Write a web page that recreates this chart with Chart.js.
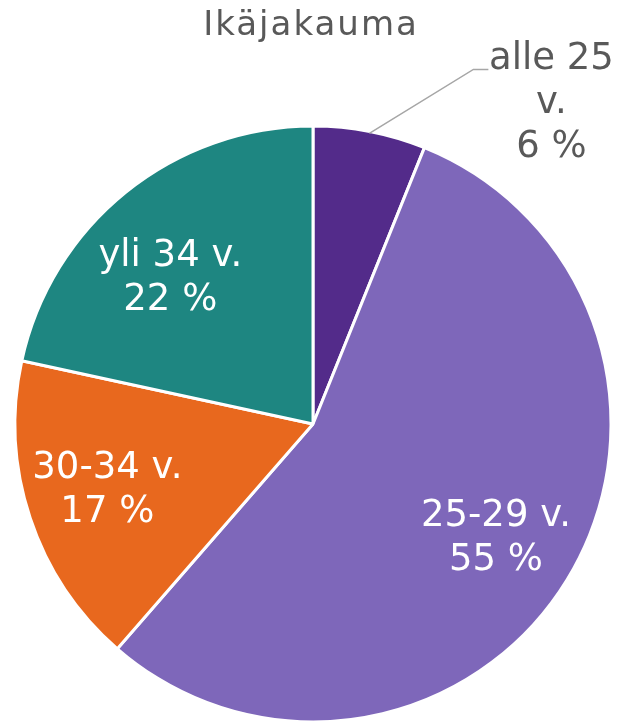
<!DOCTYPE html>
<html>
<head>
<meta charset="utf-8">
<script src="https://cdn.jsdelivr.net/npm/chart.js@4"></script>
<style>
  html, body { margin: 0; padding: 0; background: #fff; }
  canvas { display: block; }
</style>
</head>
<body>
<canvas id="chart" width="618" height="722"></canvas>
<script>
// Age distribution (percent of total)
const chartTitle = 'Ikäjakauma';
const categories = ['alle 25 v.', '25-29 v.', '30-34 v.', 'yli 34 v.'];
const shares = [6.1, 55.3, 17.0, 21.6];
const sliceColors = ['#532B8A', '#7E67BA', '#E8681E', '#1E8681'];

// label line breaks as in the picture
const labelLines = [['alle 25', 'v.'], ['25-29 v.'], ['30-34 v.'], ['yli 34 v.']];

const FONT = '"DejaVu Sans", Verdana, sans-serif';

/*
 * Draws the title and the data labels (no datalabels plugin here)
**/
const pieLabels = {
  id: 'pieLabels',
  afterDraw(chart, args, opts) {
    const ctx = chart.ctx;
    const meta = chart.getDatasetMeta(0);
    const total = shares.reduce((a, b) => a + b, 0);

    ctx.save();
    // title
    ctx.font = `34px ${FONT}`;
    ctx.letterSpacing = '2px';
    ctx.fillStyle = '#595959';
    ctx.textAlign = 'center';
    ctx.textBaseline = 'middle';
    ctx.fillText(chartTitle, opts.titleX, opts.titleY);
    ctx.letterSpacing = '0px';

    ctx.font = `37px ${FONT}`;
    meta.data.forEach((arc, i) => {
      const p = arc.getProps(['x', 'y', 'startAngle', 'endAngle', 'outerRadius'], true);
      const mid = (p.startAngle + p.endAngle) / 2;
      const pct = Math.round(shares[i] / total * 100) + ' %';
      const lines = labelLines[i].concat([pct]);
      let cx, cy;

      if (i === opts.outsideIndex) {
        // callout with leader line
        const ex = p.x + Math.cos(mid) * (p.outerRadius - 2);
        const ey = p.y + Math.sin(mid) * (p.outerRadius - 2);
        cx = ex + opts.callout.dx;
        cy = ey + opts.callout.dy;
        ctx.strokeStyle = '#A6A6A6';
        ctx.lineWidth = 1.5;
        ctx.beginPath();
        ctx.moveTo(ex, ey);
        ctx.lineTo(cx - 78, cy - 32);
        ctx.lineTo(cx - 63, cy - 32);
        ctx.stroke();
        ctx.fillStyle = '#595959';
      } else {
        const nudge = opts.nudge[i] || [0, 0];
        cx = p.x + Math.cos(mid) * p.outerRadius * opts.labelRadius + nudge[0];
        cy = p.y + Math.sin(mid) * p.outerRadius * opts.labelRadius + nudge[1];
        ctx.fillStyle = '#FFFFFF';
      }

      const lh = opts.lineHeight;
      const top = cy - (lines.length - 1) * lh / 2;
      lines.forEach((t, k) => ctx.fillText(t, cx, top + k * lh + 2));
    });
    ctx.restore();
  }
};

const chart = new Chart(document.getElementById('chart'), {
  type: 'pie',
  data: {
    labels: categories,
    datasets: [{
      data: shares,
      backgroundColor: sliceColors,
      borderColor: '#FFFFFF',
      borderWidth: 3
    }]
  },
  options: {
    responsive: false,
    animation: false,
    radius: 298,
    layout: { padding: { left: 17, right: 9, top: 128, bottom: 2 } },
    plugins: {
      legend: { display: false },
      title: { display: false },
      tooltip: { enabled: false },
      pieLabels: {
        titleX: 311,
        titleY: 26,
        labelRadius: 0.72,
        lineHeight: 44,
        outsideIndex: 0,
        callout: { dx: 182, dy: -32 },
        nudge: { 2: [-2, -3], 3: [-8, 19] }
      }
    }
  },
  plugins: [pieLabels]
});
</script>
</body>
</html>
